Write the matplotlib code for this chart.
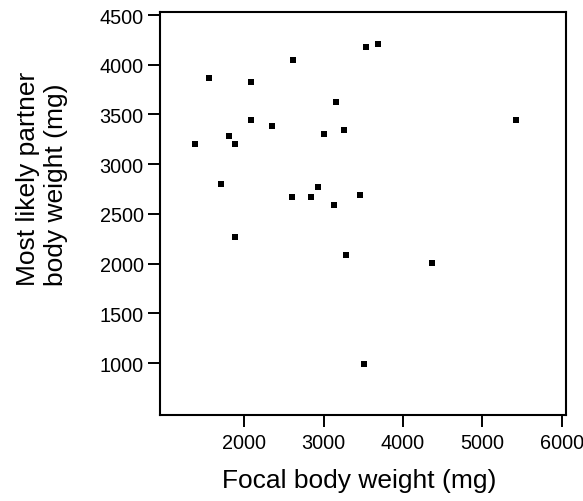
import numpy as np
import matplotlib.pyplot as plt

plt.rcParams['font.family'] = ['Liberation Sans', 'DejaVu Sans']

# focal body weight (mg) and most likely partner body weight (mg)
focal = [1383, 1559, 1710, 1811, 1887, 2088, 2088, 2345, 2617, 2597,
         2845, 2925, 3004, 3127, 3152, 3256, 3534, 3685, 5427, 3454,
         1887, 3277, 4365, 3505]
partner = [3200, 3866, 2796, 3284, 3200, 3825, 3442, 3382, 4050, 2672,
           2672, 2773, 3300, 2594, 3624, 3341, 4175, 4212, 3442, 2692,
           2269, 2087, 2006, 993]
xticks = [2000, 3000, 4000, 5000, 6000]
yticks = [1000, 1500, 2000, 2500, 3000, 3500, 4000, 4500]

fig = plt.figure(figsize=(5.83, 5.02), dpi=100)
ax = fig.add_axes([0.2736, 0.1719, 0.6967, 0.8021])
ax.scatter(focal, partner, marker='s', s=22, color='black', linewidths=0)

ax.set_xlim(930, 6050)
ax.set_ylim(480, 4530)
ax.set_xticks(xticks)
ax.set_yticks(yticks)
ax.tick_params(axis='x', direction='out', length=8.5, width=1.4, labelsize=14.3, pad=5)
ax.tick_params(axis='y', direction='out', length=9, width=1.4, labelsize=14.3, pad=2.5)
for s in ax.spines.values():
    s.set_linewidth(1.5)

# axis titles placed as in the original figure
fig.text(359.5 / 583, 1 - 488 / 502, 'Focal body weight (mg)', fontsize=19,
         ha='center', va='baseline')
fig.text(42 / 583, 1 - 179 / 502, 'Most likely partner\nbody weight (mg)',
         fontsize=19, rotation=90, ha='center', va='center',
         multialignment='left')

fig.savefig('out.png', dpi=100)
